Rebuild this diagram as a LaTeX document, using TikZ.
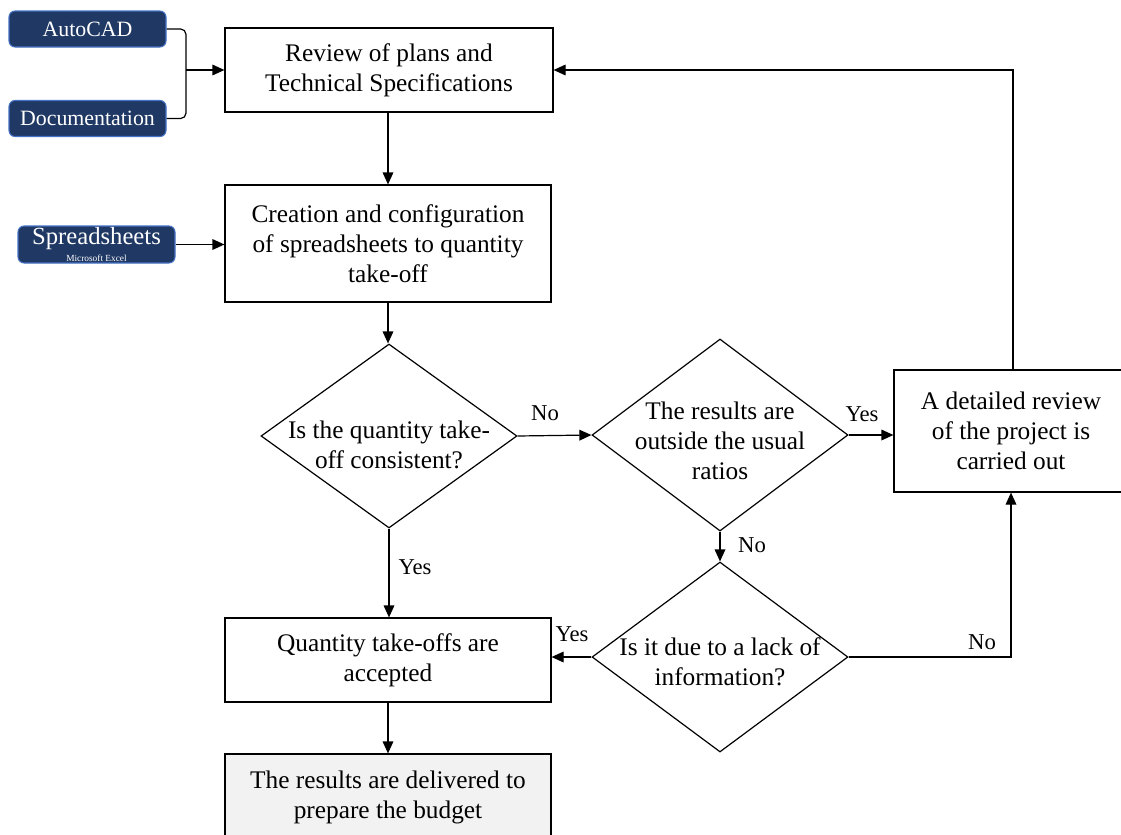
\documentclass[tikz,border=0pt]{standalone}
\usepackage{fontspec}
\setmainfont{Liberation Serif}
\usetikzlibrary{shapes.geometric,arrows.meta}
\definecolor{navy}{RGB}{31,56,100}
\definecolor{navyedge}{RGB}{68,114,196}
\definecolor{finalgray}{RGB}{242,242,242}
\begin{document}
\begin{tikzpicture}[x=0.75pt,y=-0.75pt,
  procbox/.style={draw=black, line width=0.9pt, inner sep=0pt, align=center,
    font=\fontsize{19}{22.5}\selectfont},
  decshape/.style={draw=black, line width=0.9pt, shape=diamond, inner sep=0pt,
    minimum width=192pt},
  dectext/.style={inner sep=0pt, align=center, font=\fontsize{19}{22.5}\selectfont},
  srcbox/.style={draw=navyedge, fill=navy, line width=0.8pt, rounded corners=4.5pt,
    text=white, inner sep=0pt, align=center, minimum width=117.75pt,
    font=\fontsize{16.4}{18}\selectfont},
  lbl/.style={inner sep=0pt, font=\fontsize{17}{18}\selectfont},
  arr/.style={line width=0.9pt, -{Triangle[length=9pt,width=8pt]}},
  conn/.style={line width=0.9pt}]
\useasboundingbox (0,0) rectangle (1121,835);

% source boxes
\node[srcbox, minimum height=27pt] (auto) at (87.5,29) {AutoCAD};
\node[srcbox, minimum height=27pt] (doc) at (87.5,118.5) {Documentation};
\node[srcbox, minimum height=27.75pt] (ss) at (96.5,244.5)
  {{\fontsize{18.5}{17}\selectfont Spreadsheets}\\[-5pt]{\fontsize{7}{7}\selectfont Microsoft Excel}};

% process boxes
\node[procbox, minimum width=246pt, minimum height=63pt] (review) at (389,70)
  {Review of plans and\\Technical Specifications};
\node[procbox, minimum width=244.5pt, minimum height=87.75pt] (create) at (388,243.5)
  {Creation and configuration\\of spreadsheets to quantity\\take-off};
\node[procbox, minimum width=244.5pt, minimum height=63pt] (accept) at (388,660)
  {Quantity take-offs are\\accepted};
\node[procbox, fill=finalgray, minimum width=244.5pt, minimum height=64.5pt] (final) at (388,797)
  {The results are delivered to\\prepare the budget};
\node[procbox, minimum width=175.5pt, minimum height=91.5pt] (detail) at (1011,431)
  {A detailed review\\of the project is\\carried out};

% decisions
\node[decshape, minimum height=138pt] (d1) at (389,436) {};
\node[dectext] (d1t) at (389,445) {Is the quantity take-\\off consistent?};
\node[decshape, minimum height=144pt] (d2) at (720,435) {};
\node[dectext] (d2t) at (720,441) {The results are\\outside the usual\\ratios};
\node[decshape, minimum height=142.5pt] (d3) at (720,657) {};
\node[dectext] (d3t) at (720,662) {Is it due to a lack of\\information?};

% junction for sources
\coordinate (j) at (186,70);
\draw[conn, rounded corners=4pt] (auto.east) -| (j);
\draw[conn, rounded corners=4pt] (doc.east) -| (j);
\draw[arr] (j) -- (review.west);
\draw[arr] (ss.east) -- (ss.east -| create.west);

% main flow
\draw[arr] (review.south -| create.north) -- (create.north);
\draw[arr] (create.south) -- (d1.north -| create.south);
\draw[arr] (d1.south) -- (d1.south |- accept.north);
\draw[arr] (accept.south) -- (final.north);
\draw[arr] (d1.east) -- (d2.west);
\draw[arr] (d2.east) -- (d2.east -| detail.west);
\draw[arr] (d2.south) -- (d3.north);
\draw[arr] (d3.west) -- (d3.west -| accept.east);
\coordinate (up) at (1013,0);
\draw[arr] (detail.north -| up) |- (review.east);
\coordinate (dn) at (1011,0);
\draw[arr] (d3.east) -| (detail.south -| dn);

% labels
\node[lbl] (l1) at (545,413) {No};
\node[lbl] (l2) at (862,414) {Yes};
\node[lbl] (l3) at (752,545) {No};
\node[lbl] (l4) at (572,634) {Yes};
\node[lbl] (l5) at (415,567) {Yes};
\node[lbl] (l6) at (982,642) {No};
\end{tikzpicture}
\end{document}
